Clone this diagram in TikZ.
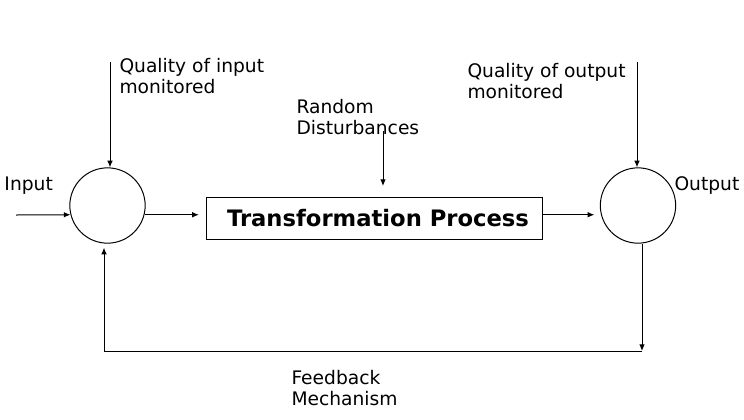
\documentclass[tikz,border=0pt]{standalone}
\usepackage{fontspec}
\setmainfont{DejaVu Sans}
\usetikzlibrary{arrows.meta,calc}
\tikzset{twoline/.style={align=left,anchor=north west,inner sep=0pt,font=\fontsize{14}{15.75}\selectfont}}

\begin{document}
\begin{tikzpicture}[x=0.75pt,y=-0.75pt,line width=0.75pt]
\tikzset{arr/.style={-{Latex[length=5pt,width=4.2pt]}},
  monitor/.style={draw,circle,inner sep=0pt,minimum size=56.5pt}}
\useasboundingbox (0,0) rectangle (744,419);
\node[monitor] (inmon) at (107.5,205.5) {};
\node[monitor] (outmon) at (638,205.5) {};
\node[draw,minimum width=252pt,minimum height=31.5pt,inner sep=0pt,font=\fontsize{17}{18}\selectfont\bfseries] (proc) at (374,218) {\hspace*{6pt}Transformation Process};
\coordinate (inp) at (16,215);
\coordinate (qin) at (110,62);
\coordinate (qout) at (637,62);
\coordinate (distend) at (383,186);
\coordinate (fbr) at (642,351);
\coordinate (fbl) at (104,351);
\node[twoline] (inlbl) at (4,176) {Input};
\node[twoline] (outlbl) at (674,176) {Output};
\node[twoline] (qinlbl) at (119,58) {Quality of input\\monitored};
\node[twoline] (qoutlbl) at (467,63) {Quality of output\\monitored};
\node[twoline] (dist) at (296,99) {Random\\Disturbances};
\node[twoline] (fblbl) at (291,370) {Feedback\\Mechanism};
\draw[arr] (inp) -- (inmon.194);
\draw[arr,shorten >=5pt] (inmon.-14) -- (inmon.-14 -| proc.west);
\draw[arr,shorten >=5pt] (outmon.194 -| proc.east) -- (outmon.194);
\draw[arr] (qin) -- (qin |- inmon.north);
\draw[arr] (qout) -- (qout |- outmon.north);
\draw[arr,shorten <=-3pt] (distend |- dist.south) -- (distend);
\draw[arr] (fbr |- outmon.south) -- (fbr);
\draw[arr,shorten >=3pt] (fbr) -- (fbl) -- (fbl |- inmon.south);
\end{tikzpicture}
\end{document}
